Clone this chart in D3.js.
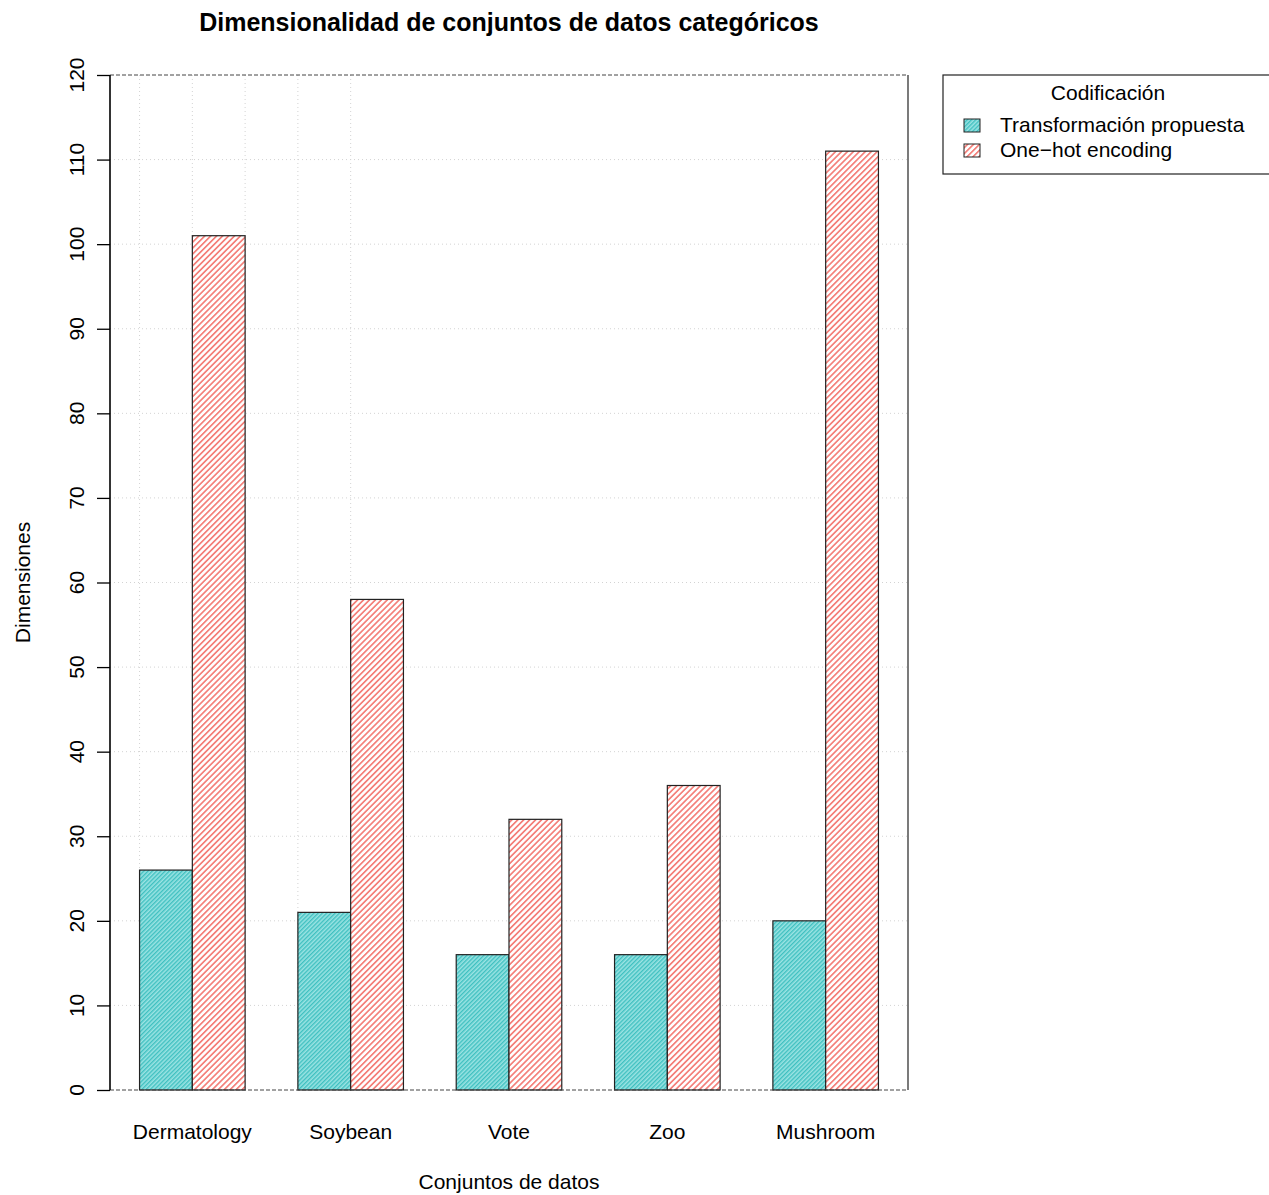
<!DOCTYPE html>
<html>
<head>
<meta charset="utf-8">
<script src="https://cdn.jsdelivr.net/npm/d3@7"></script>
<style>
  body { margin: 0; background: #fff; }
  text { font-family: "Liberation Sans", Arial, sans-serif; fill: #000; }
</style>
</head>
<body>
<div id="chart"></div>
<script>
// data
let datasets = ["Dermatology", "Soybean", "Vote", "Zoo", "Mushroom"];
let series = ["Transformación propuesta", "One\u2212hot encoding"];
let propuesta = [26, 21, 16, 16, 20];
let oneHot = [101, 58, 32, 36, 111];
let yTicks = [0, 10, 20, 30, 40, 50, 60, 70, 80, 90, 100, 110, 120];
let gridX = [1, 2, 3, 4, 5];

let width = 1269, height = 1195;
let plot = {left: 110, right: 908, top: 75, bottom: 1090};

let svg = d3.select("#chart").append("svg")
    .attr("width", width)
    .attr("height", height);

// hatch patterns
let defs = svg.append("defs");
let p1 = defs.append("pattern")
    .attr("id", "hatchTeal")
    .attr("patternUnits", "userSpaceOnUse")
    .attr("width", 3).attr("height", 3)
    .attr("patternTransform", "rotate(45)");
p1.append("rect").attr("width", 3).attr("height", 3).attr("fill", "#9be3e3");
p1.append("rect").attr("width", 1.4).attr("height", 3).attr("fill", "#3fc0c0");

let p2 = defs.append("pattern")
    .attr("id", "hatchRed")
    .attr("patternUnits", "userSpaceOnUse")
    .attr("width", 4.2).attr("height", 4.2)
    .attr("patternTransform", "rotate(45)");
p2.append("rect").attr("width", 4.2).attr("height", 4.2).attr("fill", "#fff");
p2.append("rect").attr("width", 1.7).attr("height", 4.2).attr("fill", "#f4807a");

let fills = ["url(#hatchTeal)", "url(#hatchRed)"];

// scales (barplot units: each group = 2 bars + 1 gap)
let x = d3.scaleLinear().domain([0.44, 15.56]).range([plot.left, plot.right]);
let y = d3.scaleLinear().domain([0, 120]).range([plot.bottom, plot.top]);

// grid
svg.append("g").selectAll("line")
    .data(yTicks.slice(1, -1))
    .enter().append("line")
    .attr("x1", plot.left).attr("x2", plot.right)
    .attr("y1", d => y(d)).attr("y2", d => y(d))
    .attr("stroke", "#d3d3d3").attr("stroke-dasharray", "1,3");

svg.append("g").selectAll("line")
    .data(gridX)
    .enter().append("line")
    .attr("x1", d => x(d)).attr("x2", d => x(d))
    .attr("y1", plot.top).attr("y2", plot.bottom)
    .attr("stroke", "#d3d3d3").attr("stroke-dasharray", "1,3");

// bars
let barData = [];
datasets.forEach((name, i) => {
    [propuesta[i], oneHot[i]].forEach((v, j) => {
        barData.push({name: name, value: v, s: j, x0: 1 + 3 * i + j});
    });
});

svg.append("g").selectAll("rect")
    .data(barData)
    .enter().append("rect")
    .attr("x", d => x(d.x0))
    .attr("y", d => y(d.value))
    .attr("width", d => x(d.x0 + 1) - x(d.x0))
    .attr("height", d => y(0) - y(d.value))
    .attr("fill", d => fills[d.s])
    .attr("stroke", "#222")
    .attr("stroke-width", 1.2);

// frame
svg.append("line")
    .attr("x1", plot.left).attr("x2", plot.right)
    .attr("y1", plot.top).attr("y2", plot.top)
    .attr("stroke", "#444").attr("stroke-dasharray", "4,2");
svg.append("line")
    .attr("x1", plot.left).attr("x2", plot.right)
    .attr("y1", plot.bottom).attr("y2", plot.bottom)
    .attr("stroke", "#444").attr("stroke-dasharray", "4,2");
svg.append("line")
    .attr("x1", plot.right).attr("x2", plot.right)
    .attr("y1", plot.top).attr("y2", plot.bottom)
    .attr("stroke", "#222").attr("stroke-width", 1.2);

// y axis
let yAxis = svg.append("g")
    .attr("transform", `translate(${plot.left},0)`)
    .call(d3.axisLeft(y).tickValues(yTicks).tickSize(13).tickFormat(""));
yAxis.select(".domain").attr("stroke-width", 1.6).attr("d", `M0,${plot.bottom}V${plot.top}`);
yAxis.selectAll(".tick line").attr("stroke-width", 1.3);

svg.append("g").selectAll("text")
    .data(yTicks)
    .enter().append("text")
    .attr("transform", d => `translate(84,${y(d)}) rotate(-90)`)
    .attr("text-anchor", "middle")
    .style("font-size", "21px")
    .text(d => d);

// category labels
svg.append("g").selectAll("text")
    .data(datasets)
    .enter().append("text")
    .attr("x", (d, i) => x(2 + 3 * i))
    .attr("y", 1139)
    .attr("text-anchor", "middle")
    .style("font-size", "21px")
    .text(d => d);

// titles
svg.append("text")
    .attr("x", (plot.left + plot.right) / 2)
    .attr("y", 31)
    .attr("text-anchor", "middle")
    .style("font-size", "25px")
    .style("font-weight", "bold")
    .text("Dimensionalidad de conjuntos de datos categóricos");

svg.append("text")
    .attr("x", (plot.left + plot.right) / 2)
    .attr("y", 1189)
    .attr("text-anchor", "middle")
    .style("font-size", "21px")
    .text("Conjuntos de datos");

svg.append("text")
    .attr("transform", `translate(30,${(plot.top + plot.bottom) / 2}) rotate(-90)`)
    .attr("text-anchor", "middle")
    .style("font-size", "21px")
    .text("Dimensiones");

// legend
let legend = svg.append("g");
legend.append("rect")
    .attr("x", 943).attr("y", 75)
    .attr("width", 340).attr("height", 99)
    .attr("fill", "#fff")
    .attr("stroke", "#222").attr("stroke-width", 1.2);
legend.append("text")
    .attr("x", 1108).attr("y", 100)
    .attr("text-anchor", "middle")
    .style("font-size", "21px")
    .text("Codificación");

series.forEach((s, j) => {
    legend.append("rect")
        .attr("x", 964).attr("y", 119 + 25 * j)
        .attr("width", 16).attr("height", 13)
        .attr("fill", fills[j])
        .attr("stroke", "#222");
    legend.append("text")
        .attr("x", 1000).attr("y", 132 + 25 * j)
        .style("font-size", "21px")
        .text(s);
});
</script>
</body>
</html>
